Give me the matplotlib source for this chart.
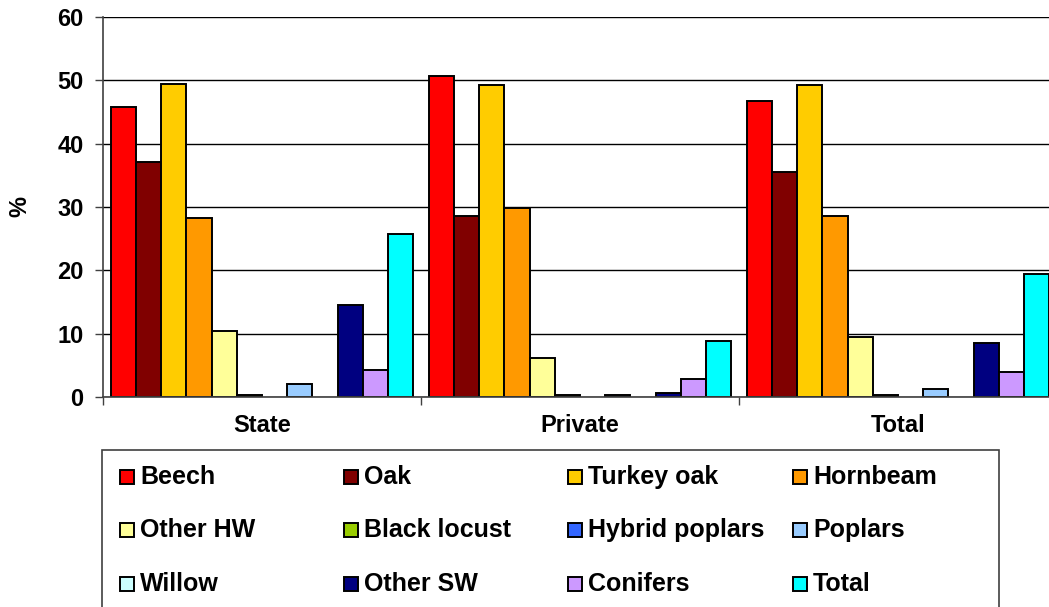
import matplotlib.pyplot as plt
import numpy as np
from matplotlib.patches import Rectangle

plt.rcParams['font.family'] = ['Liberation Sans', 'DejaVu Sans']
plt.rcParams['font.weight'] = 'bold'

groups = ['State', 'Private', 'Total']
species = ['Beech', 'Oak', 'Turkey oak', 'Hornbeam', 'Other HW', 'Black locust',
           'Hybrid poplars', 'Poplars', 'Willow', 'Other SW', 'Conifers', 'Total']
colors = ['#FF0000', '#800000', '#FFCC00', '#FF9900', '#FFFF99', '#99CC00',
          '#3366FF', '#99CCFF', '#CCFFFF', '#000080', '#CC99FF', '#00FFFF']

state = [45.8, 37.1, 49.4, 28.2, 10.4, 0.3, 0, 2.0, 0, 14.6, 4.2, 25.7]
private = [50.7, 28.6, 49.2, 29.8, 6.2, 0.3, 0, 0.3, 0, 0.6, 2.9, 8.8]
total = [46.8, 35.5, 49.3, 28.6, 9.4, 0.3, 0, 1.3, 0, 8.6, 3.9, 19.4]

W, H = 1049, 607
fig = plt.figure(figsize=(W / 100, H / 100), dpi=100)
ax = fig.add_axes([103 / W, 1 - 397 / H, (1057 - 103) / W, 380 / H])

data = np.array([state, private, total])  # groups x species
x = np.arange(len(groups))
n = len(species)
width = 1 / (n + 0.6)
for i, name in enumerate(species):
    vals = data[:, i]
    lw = np.where(vals > 0, 1.4, 0)
    ax.bar(x + (i - (n - 1) / 2) * width, vals, width, color=colors[i],
           edgecolor='black', linewidth=lw, zorder=3)

ax.set_xlim(-0.5, 2.5)
ax.set_ylim(0, 60)
ax.set_yticks(np.arange(0, 61, 10))
ax.yaxis.grid(True, color='black', linewidth=1, zorder=0)
ax.set_xticks(x)
ax.set_xticklabels(groups)
ax.set_xticks(np.arange(-0.5, 3, 1), minor=True)
ax.tick_params(axis='x', which='major', length=0, pad=12, labelsize=17)
ax.tick_params(axis='x', which='minor', length=6, width=1, direction='out', color='#404040')
ax.tick_params(axis='y', length=6, width=1, direction='out', pad=8, labelsize=17, color='#404040')
for s in ['top', 'right']:
    ax.spines[s].set_visible(False)
for s in ['left', 'bottom']:
    ax.spines[s].set_color('#404040')
    ax.spines[s].set_linewidth(1.2)
    ax.spines[s].set_zorder(4)

fig.text(20 / W, 1 - 207 / H, '%', rotation=90, ha='center', va='center', fontsize=17)

# legend box (Excel style, uniform columns)
fig.patches.append(Rectangle((102 / W, -0.05), (999 - 102) / W, 0.05 + 1 - 450 / H,
                             transform=fig.transFigure, facecolor='white',
                             edgecolor='#404040', linewidth=1.2))
col_x = [120, 344, 568, 793]
row_y = [477, 530, 584]
sq = 14
for i, name in enumerate(species):
    cx = col_x[i % 4]
    cy = row_y[i // 4]
    fig.patches.append(Rectangle((cx / W, 1 - (cy + sq / 2) / H), sq / W, sq / H,
                                 transform=fig.transFigure, facecolor=colors[i],
                                 edgecolor='black', linewidth=1.4))
    fig.text((cx + 20) / W, 1 - cy / H, name, ha='left', va='center', fontsize=18)

fig.savefig('out.png', dpi=100)
